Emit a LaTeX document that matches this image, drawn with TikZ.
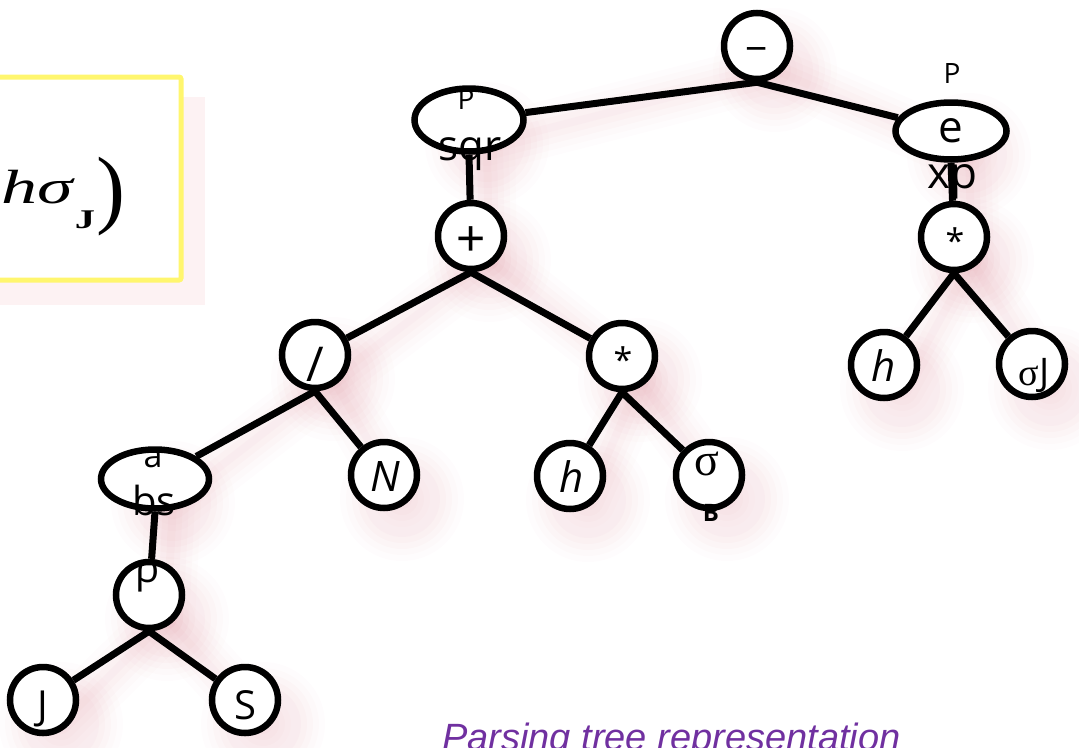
\documentclass[tikz,border=0pt]{standalone}
\usepackage{fontspec}
\setmainfont{Open Sans}
\newfontfamily\seriffont{Liberation Serif}
\newfontfamily\arialfont{Liberation Sans}
\usetikzlibrary{shapes.geometric,backgrounds}
\pgfdeclarelayer{shadowlayer}
\pgfsetlayers{shadowlayer,background,main}
\definecolor{shpink}{RGB}{214,120,135}
\definecolor{boxyellow}{RGB}{255,246,110}
\definecolor{boxshadow}{RGB}{253,242,243}
\definecolor{capviolet}{RGB}{112,48,160}
\begin{document}
\begin{tikzpicture}[x=1pt,y=-1pt,
  tnode/.style={circle, draw=black, line width=6.5pt, fill=white, minimum size=66pt, inner sep=0pt, font=\fontsize{42}{44}\selectfont},
  enode/.style={ellipse, draw=black, line width=6.5pt, fill=white, inner sep=0pt},
  conn/.style={line width=7pt, black},
  lbl/.style={inner sep=0pt, anchor=base},
  shline/.style={shpink, line cap=round}]
\useasboundingbox (0,0) rectangle (1079,747);

% formula box
\fill[boxshadow] (-20,97) rectangle (205,305);
\draw[boxyellow, line width=5pt, fill=white, rounded corners=2pt] (-20,77) rectangle (181,280);
\node[inner sep=0pt, anchor=base west] (fh) at (1,203) {\scalebox{1.5}[1]{\seriffont\fontsize{48}{52}\selectfont\textit{hσ}\raisebox{-25pt}{\fontsize{27}{30}\selectfont\textbf{J}}}};
\node[inner sep=0pt, anchor=base west] (fp) at (96,217) {\seriffont\fontsize{87}{90}\selectfont)};

% tree nodes
\node[tnode] (m) at (757,46) {};
\node[enode, minimum width=109pt, minimum height=63pt] (psqr) at (469,120) {};
\node[enode, minimum width=111pt, minimum height=57pt] (pexp) at (951,131) {};
\node[tnode] (plus) at (471,236) {};
\node[tnode] (st2) at (954,237) {};
\node[tnode] (sl) at (315,355) {};
\node[tnode] (st1) at (622,356) {};
\node[tnode] (h2) at (884,365) {};
\node[tnode] (sJ) at (1032,364) {};
\node[enode, minimum width=108pt, minimum height=59pt] (abs) at (155,479) {};
\node[tnode] (N) at (384,475) {};
\node[tnode] (h1) at (570,476) {};
\node[tnode] (sB) at (709,475) {};
\node[tnode] (rho) at (149,595) {};
\node[tnode] (J) at (43,700) {};
\node[tnode] (S) at (245,700) {};

% labels
\node[inner sep=0pt, font=\arialfont\fontsize{38}{40}\selectfont] (mt) at (757,55) {−};
\node[inner sep=0pt, font=\arialfont\fontsize{50}{52}\selectfont] (plust) at (471,241) {+};
\node[lbl, font=\fontsize{34}{36}\selectfont] (st2t) at (955,253) {*};
\node[lbl, font=\fontsize{34}{36}\selectfont] (st1t) at (623,372) {*};
\node[lbl, font=\fontsize{48}{50}\selectfont] (slt) at (315,381) {/};
\node[lbl, font=\fontsize{28}{30}\selectfont] (psqrP) at (466,109) {P};
\node[lbl, font=\fontsize{42}{44}\selectfont] (psqrS) at (470,160) {sqr};
\node[lbl, font=\fontsize{28}{30}\selectfont] (pexpP) at (952,83) {P};
\node[lbl, font=\fontsize{44}{46}\selectfont] (pexpE) at (951,142) {e};
\node[lbl, font=\fontsize{44}{46}\selectfont] (pexpX) at (952,188) {xp};
\node[lbl, font=\fontsize{34}{36}\selectfont] (absA) at (153,467) {a};
\node[lbl, font=\fontsize{40}{42}\selectfont] (absB) at (154,515) {bs};
\node[lbl, font=\fontsize{40}{42}\selectfont] (rhot) at (148,582) {ρ};
\node[lbl, font=\fontsize{40}{42}\selectfont] (Jt) at (43,719) {J};
\node[lbl, font=\fontsize{40}{42}\selectfont] (St) at (245,719) {S};
\node[lbl, font=\fontsize{42}{44}\selectfont\itshape] (Nt) at (385,491) {N};
\node[lbl, font=\fontsize{42}{44}\selectfont\itshape] (h1t) at (572,492) {h};
\node[lbl, font=\fontsize{42}{44}\selectfont\itshape] (h2t) at (884,381) {h};
\node[lbl, font=\seriffont\fontsize{46}{48}\selectfont] (sBt) at (707,475) {σ};
\node[lbl, font=\fontsize{24}{26}\selectfont\bfseries] (sBb) at (711,521) {B};
\node[lbl, font=\fontsize{38}{40}\selectfont] (sJt) at (1034,385) {{\seriffont σ}J};

% caption
\node[inner sep=0pt, anchor=base west, text=capviolet, font=\arialfont\itshape\fontsize{38}{40}\selectfont] (cap) at (442,750) {Parsing tree representation};

% connectors
\begin{pgfonlayer}{background}
\foreach \a/\b in {m/psqr, m/pexp, psqr/plus, pexp/st2, plus/sl, plus/st1, sl/abs, sl/N, st1/h1, st1/sB, st2/h2, st2/sJ, abs/rho, rho/J, rho/S}
  \draw[conn] (\a.south) -- (\b);
\end{pgfonlayer}

% soft shadow
\begin{pgfonlayer}{shadowlayer}
\foreach \w/\op in {56/0.02, 44/0.025, 32/0.03, 20/0.035, 8/0.035}{
  \foreach \a/\b in {m/psqr, m/pexp, psqr/plus, pexp/st2, plus/sl, plus/st1, sl/abs, sl/N, st1/h1, st1/sB, st2/h2, st2/sJ, abs/rho, rho/J, rho/S}
    \draw[shline, opacity=\op, line width=\w pt] ([xshift=18pt,yshift=-24pt]\a.center) -- ([xshift=18pt,yshift=-24pt]\b.center);
  \foreach \n in {m, plus, st2, sl, st1, h2, sJ, N, h1, sB, rho, J, S, psqr, pexp, abs}
    \fill[shpink, opacity=\op] ([xshift=18pt,yshift=-24pt]\n.center) circle[radius={34+\w/2}];
}
\end{pgfonlayer}
\end{tikzpicture}
\end{document}
